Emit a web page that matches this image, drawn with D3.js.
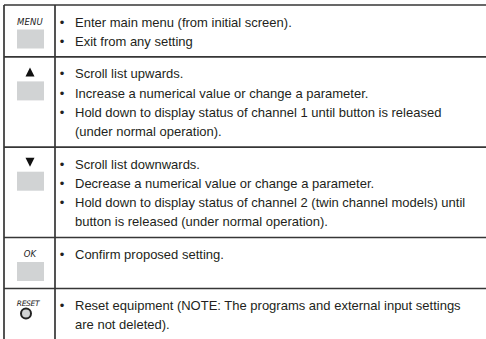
<!DOCTYPE html>
<html>
<head>
<meta charset="utf-8">
<script src="https://cdn.jsdelivr.net/npm/d3@7"></script>
<style>
  html, body { margin: 0; padding: 0; background: #ffffff; }
  svg { display: block; }
</style>
</head>
<body>
<svg id="chart" width="486" height="339"></svg>
<script>
// ---- data ----
const keyLabels = ["MENU", "▲", "▼", "OK", "RESET"];
const keyIcons = ["box", "box", "box", "box", "circle"];
const descriptions = [
  ["Enter main menu (from initial screen).",
   "Exit from any setting"],
  ["Scroll list upwards.",
   "Increase a numerical value or change a parameter.",
   "Hold down to display status of channel 1 until button is released",
   "(under normal operation)."],
  ["Scroll list downwards.",
   "Decrease a numerical value or change a parameter.",
   "Hold down to display status of channel 2 (twin channel models) until",
   "button is released (under normal operation)."],
  ["Confirm proposed setting."],
  ["Reset equipment (NOTE: The programs and external input settings",
   "are not deleted)."]
];
// which lines start with a bullet
const bulletFlags = [
  [true, true],
  [true, true, true, false],
  [true, true, true, false],
  [true],
  [true, false]
];

// ---- layout ----
const W = 486, H = 339;
const tableTop = 5, leftX = 4, colX = 55, rightX = 486;
const lineH = 19.2, rowPad = 13.5, minRowH = 51;
const lineColor = "#363636";
const textColor = "#231f20";
const font = "'Liberation Sans', Arial, Helvetica, sans-serif";

const rowHeights = descriptions.map(d => Math.max(d.length * lineH + rowPad, minRowH));
const rowTops = [];
rowHeights.reduce((acc, h) => { rowTops.push(acc); return acc + h; }, tableTop);

const svg = d3.select("#chart");

const rows = svg.selectAll("g.row")
  .data(descriptions.map((d, i) => ({ lines: d, bullets: bulletFlags[i], label: keyLabels[i], icon: keyIcons[i], top: rowTops[i], h: rowHeights[i] })))
  .join("g")
  .attr("class", "row")
  .attr("transform", d => `translate(0,${d.top})`);

// horizontal rules (top of each row)
rows.append("line")
  .attr("x1", leftX).attr("x2", rightX)
  .attr("y1", 0).attr("y2", 0)
  .attr("stroke", lineColor).attr("stroke-width", 1.7);

// description lines
rows.each(function(d) {
  const g = d3.select(this);
  d.lines.forEach((t, j) => {
    const y = 21.5 + j * lineH;
    if (d.bullets[j]) {
      g.append("text")
        .attr("x", 62).attr("y", y)
        .attr("text-anchor", "middle")
        .attr("font-family", font).attr("font-size", 13)
        .attr("fill", textColor)
        .text("•");
    }
    g.append("text")
      .attr("x", 75).attr("y", y)
      .attr("font-family", font).attr("font-size", 13)
      .attr("fill", textColor)
      .text(t);
  });
});

// key icons
rows.each(function(d) {
  const g = d3.select(this);
  if (d.label === "▲" || d.label === "▼") {
    const up = d.label === "▲";
    const cy = 15, hw = 4.5, hh = 4.5;
    const pts = up
      ? [[30 - hw, cy + hh], [30 + hw, cy + hh], [30, cy - hh]]
      : [[30 - hw, cy - hh], [30 + hw, cy - hh], [30, cy + hh]];
    g.append("path")
      .attr("d", d3.line()(pts) + "Z")
      .attr("fill", "#111");
    g.append("text").attr("x", 30).attr("y", 19).attr("text-anchor", "middle")
      .attr("font-size", 1).attr("fill", "none").text(d.label);
  } else {
    const isReset = d.icon === "circle";
    g.append("text")
      .attr("x", isReset ? 28 : 30)
      .attr("y", isReset ? 17 : 19.5)
      .attr("text-anchor", "middle")
      .attr("font-family", "'DejaVu Sans', sans-serif")
      .attr("font-style", "italic")
      .attr("font-size", isReset ? 7.5 : 8.5)
      .attr("letter-spacing", isReset ? -0.3 : 0.2)
      .attr("fill", "#222")
      .text(d.label);
  }
  if (d.icon === "box") {
    g.append("rect")
      .attr("x", 17).attr("y", 24.5)
      .attr("width", 27).attr("height", 19)
      .attr("fill", "#d1d3d4");
  } else {
    g.append("circle")
      .attr("cx", 26).attr("cy", 25)
      .attr("r", 5)
      .attr("fill", "#d1d3d4")
      .attr("stroke", "#222").attr("stroke-width", 2);
  }
});

// vertical rules
svg.append("line")
  .attr("x1", leftX).attr("x2", leftX)
  .attr("y1", tableTop).attr("y2", H)
  .attr("stroke", lineColor).attr("stroke-width", 1.7);
svg.append("line")
  .attr("x1", colX).attr("x2", colX)
  .attr("y1", tableTop).attr("y2", H)
  .attr("stroke", lineColor).attr("stroke-width", 1.7);
</script>
</body>
</html>
